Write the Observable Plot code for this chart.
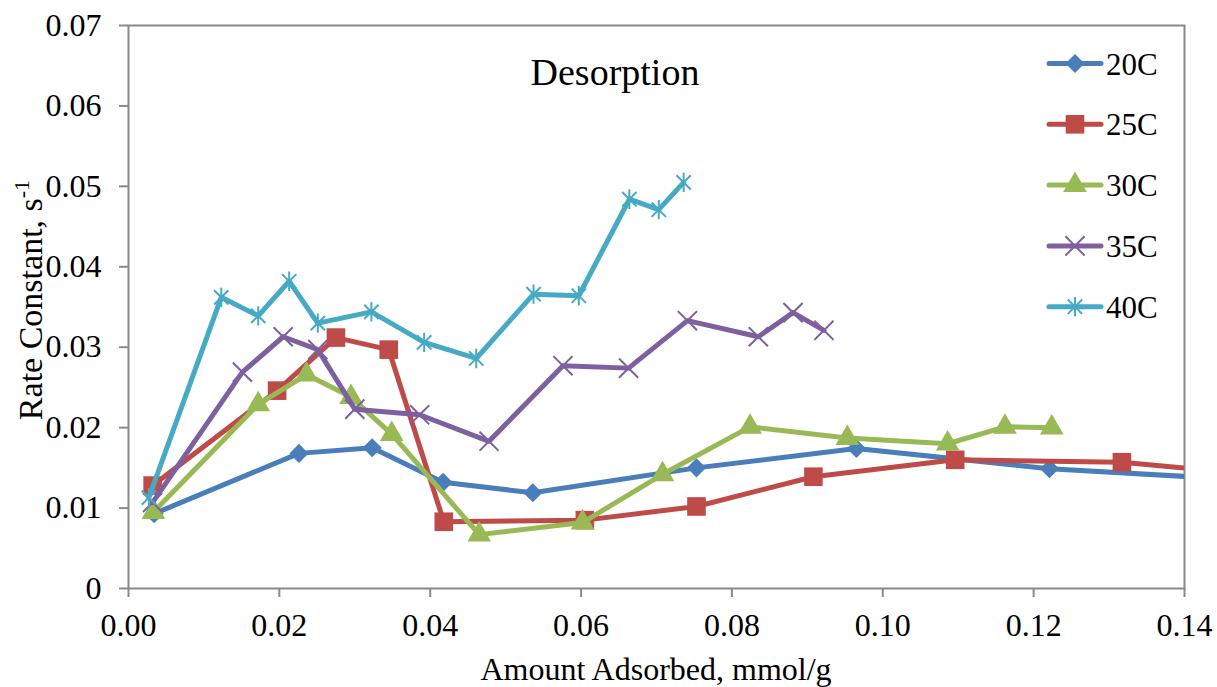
<!DOCTYPE html>
<html>
<head>
<meta charset="utf-8">
<script src="https://cdn.jsdelivr.net/npm/d3@7"></script>
<script src="https://cdn.jsdelivr.net/npm/@observablehq/plot@0.6"></script>
<style>
  html, body { margin: 0; padding: 0; background: #fff; }
  #chart { width: 1217px; height: 687px; }
</style>
</head>
<body>
<div id="chart"></div>
<script>
// ---- data ----
const seriesNames = ["20C", "25C", "30C", "35C", "40C"];

const x20 = [0.0034, 0.0226, 0.0323, 0.0417, 0.0536, 0.0753, 0.0965, 0.1221, 0.1500];
const y20 = [0.0093, 0.0168, 0.0175, 0.0132, 0.0119, 0.0150, 0.0174, 0.0149, 0.0134];

const x25 = [0.0032, 0.0197, 0.0275, 0.0345, 0.0418, 0.0605, 0.0753, 0.0908, 0.1096, 0.1317, 0.1500];
const y25 = [0.0128, 0.0246, 0.0312, 0.0297, 0.0083, 0.0085, 0.0102, 0.0139, 0.0160, 0.0157, 0.0141];

const x30 = [0.0033, 0.0172, 0.0236, 0.0295, 0.0349, 0.0465, 0.0602, 0.0708, 0.0824, 0.0953, 0.1086, 0.1162, 0.1224];
const y30 = [0.0095, 0.0229, 0.0266, 0.0238, 0.0192, 0.0067, 0.0082, 0.0142, 0.0201, 0.0187, 0.0180, 0.0201, 0.0200];

const x35 = [0.0032, 0.0151, 0.0205, 0.0251, 0.0300, 0.0386, 0.0478, 0.0576, 0.0663, 0.0741, 0.0835, 0.0881, 0.0922];
const y35 = [0.0107, 0.0269, 0.0313, 0.0297, 0.0223, 0.0216, 0.0183, 0.0277, 0.0274, 0.0333, 0.0313, 0.0343, 0.0321];

const x40 = [0.0027, 0.0123, 0.0172, 0.0213, 0.0251, 0.0322, 0.0392, 0.0461, 0.0537, 0.0597, 0.0664, 0.0703, 0.0736];
const y40 = [0.0113, 0.0362, 0.0339, 0.0382, 0.0330, 0.0344, 0.0306, 0.0286, 0.0366, 0.0364, 0.0484, 0.0471, 0.0505];

const xTicks = [0, 0.02, 0.04, 0.06, 0.08, 0.10, 0.12, 0.14];
const yTicks = [0, 0.01, 0.02, 0.03, 0.04, 0.05, 0.06, 0.07];

const colors = ["#4a7ebb", "#be4b48", "#98b954", "#7d60a0", "#46aac5"];

// ---- symbols ----
const excelAsterisk = {
  draw(ctx, size) {
    const r = Math.sqrt(size) * 0.58;
    const d = r * 0.74;
    ctx.moveTo(0, -r); ctx.lineTo(0, r);
    ctx.moveTo(-d, -d); ctx.lineTo(d, d);
    ctx.moveTo(-d, d); ctx.lineTo(d, -d);
  }
};
const excelTimes = {
  draw(ctx, size) {
    const r = Math.sqrt(size) * 0.6;
    ctx.moveTo(-r, -r); ctx.lineTo(r, r);
    ctx.moveTo(-r, r); ctx.lineTo(r, -r);
  }
};

const xsAll = [x20, x25, x30, x35, x40];
const ysAll = [y20, y25, y30, y35, y40];
const symbols = [d3.symbolDiamond2, d3.symbolSquare, d3.symbolTriangle, excelTimes, excelAsterisk];
const radii = [8.6, 10.5, 8.8, 9.0, 9.4];
const filled = [true, true, true, false, false];

const series = seriesNames.map((name, i) => ({
  name, color: colors[i], symbol: symbols[i], r: radii[i], filled: filled[i],
  data: xsAll[i].map((x, j) => ({x, y: ysAll[i][j], series: name}))
}));

const gray = "#898989";
const font = "'Liberation Serif', 'Times New Roman', serif";

const marks = [];
for (const s of series) {
  marks.push(Plot.line(s.data, {
    x: "x", y: "y", stroke: s.color, strokeWidth: 5,
    strokeLinejoin: "round", strokeLinecap: "round", clip: true
  }));
  marks.push(Plot.dot(s.data, {
    x: "x", y: "y", symbol: s.symbol, r: s.r,
    fill: s.filled ? s.color : "none",
    stroke: s.color, strokeWidth: s.filled ? 0 : 2, clip: true
  }));
}

const chart = Plot.plot({
  width: 1217,
  height: 687,
  marginLeft: 128,
  marginRight: 33,
  marginTop: 25,
  marginBottom: 99,
  style: {fontFamily: font, background: "white", color: "black", overflow: "visible"},
  x: {domain: [0, 0.14]},
  y: {domain: [0, 0.07]},
  marks: [
    Plot.frame({stroke: gray, strokeWidth: 2}),
    Plot.axisX({ticks: xTicks, tickFormat: d => d.toFixed(2), tickSize: 9, tickPadding: 16,
      fontSize: 32, stroke: gray, strokeWidth: 2, fill: "black", label: null}),
    Plot.axisY({ticks: yTicks, tickFormat: d => d === 0 ? "0" : d.toFixed(2), tickSize: 9, tickPadding: 18,
      fontSize: 32, stroke: gray, strokeWidth: 2, fill: "black", label: null}),
    ...marks
  ]
});

document.getElementById("chart").appendChild(chart);

const svg = d3.select(chart);

// Title inside the plot
svg.append("text")
  .attr("x", 615).attr("y", 85)
  .attr("text-anchor", "middle")
  .attr("font-family", font).attr("font-size", 38)
  .attr("fill", "black")
  .text("Desorption");

// X axis title
svg.append("text")
  .attr("x", 656).attr("y", 680)
  .attr("text-anchor", "middle")
  .attr("font-family", font).attr("font-size", 32)
  .attr("fill", "black")
  .text("Amount Adsorbed, mmol/g");

// Y axis title with superscript
const yt = svg.append("text")
  .attr("transform", "translate(42,300) rotate(-90)")
  .attr("text-anchor", "middle")
  .attr("font-family", font).attr("font-size", 34)
  .attr("fill", "black");
yt.append("tspan").text("Rate Constant, s");
yt.append("tspan").attr("font-size", 22).attr("dy", -13).text("-1");

// Legend
const lg = svg.append("g").attr("text-anchor", "start");
series.forEach((s, i) => {
  const cy = 63.5 + i * 60.8;
  const g = lg.append("g");
  g.append("line")
    .attr("x1", 1049).attr("x2", 1101).attr("y1", cy).attr("y2", cy)
    .attr("stroke", s.color).attr("stroke-width", 5).attr("stroke-linecap", "round");
  g.append("path")
    .attr("transform", `translate(1075,${cy})`)
    .attr("d", d3.symbol(s.symbol, Math.PI * s.r * s.r)())
    .attr("fill", s.filled ? s.color : "none")
    .attr("stroke", s.filled ? "none" : s.color)
    .attr("stroke-width", 2);
  g.append("text")
    .attr("x", 1106).attr("y", cy + 11)
    .attr("text-anchor", "start")
    .attr("font-family", font).attr("font-size", 31)
    .attr("fill", "black")
    .text(s.name);
});
</script>
</body>
</html>
